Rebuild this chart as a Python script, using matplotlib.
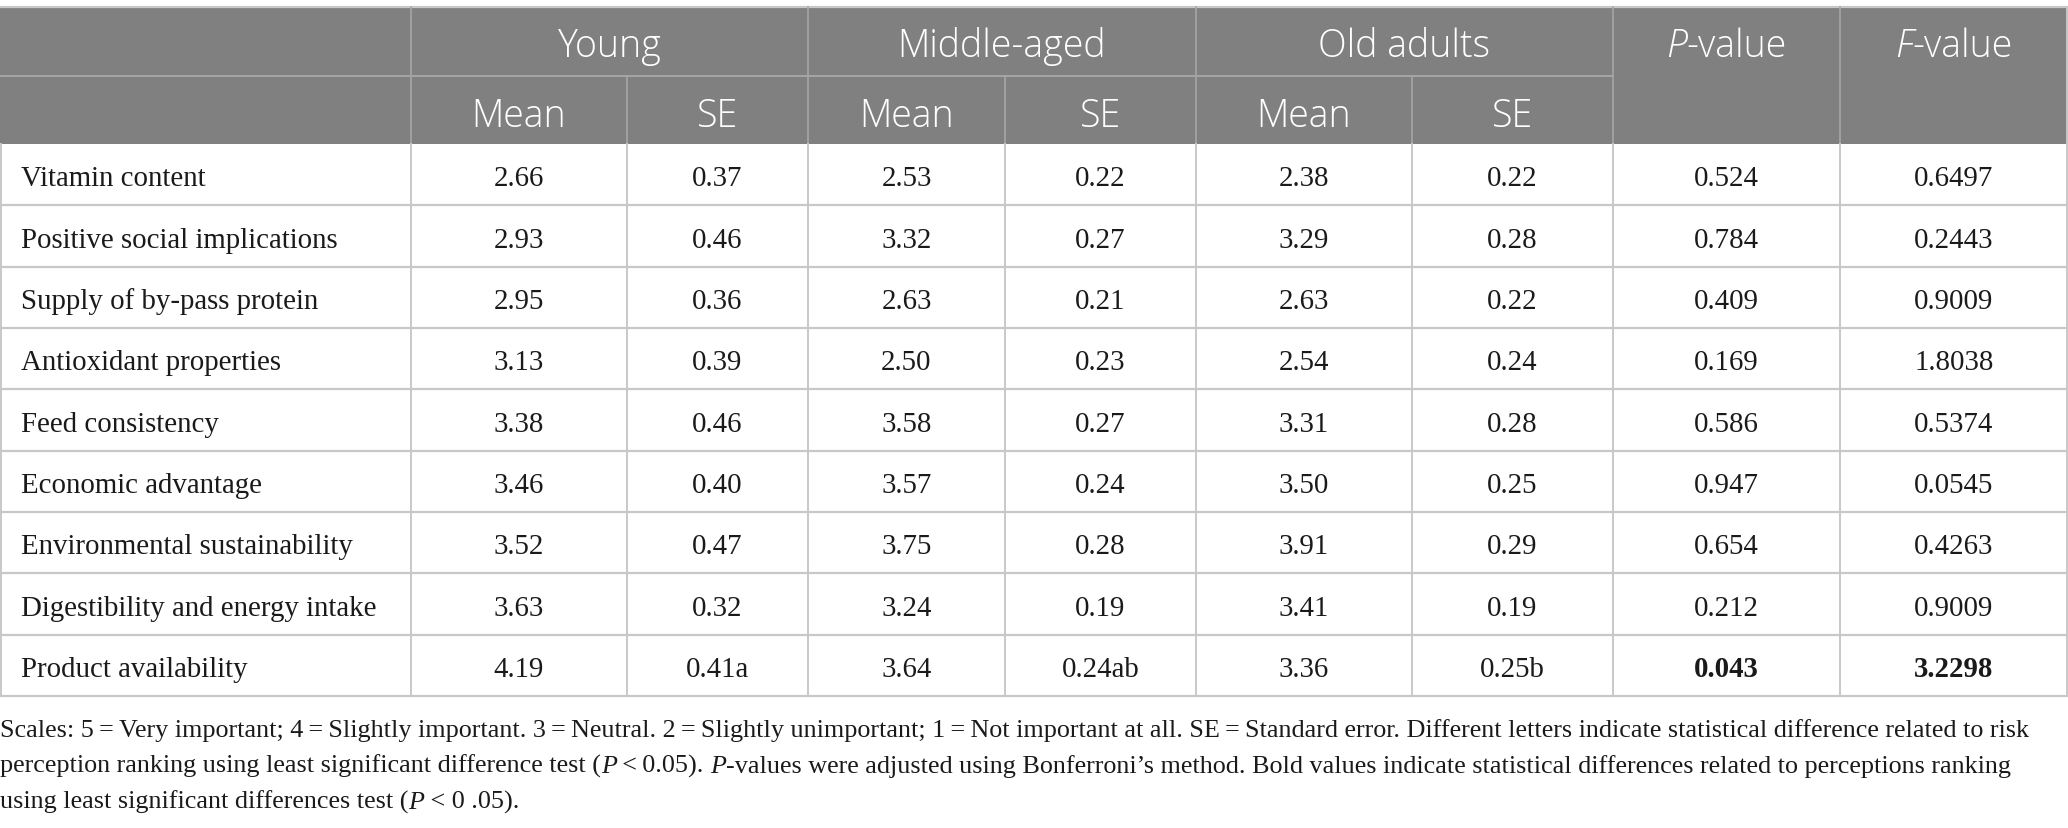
import matplotlib
matplotlib.use("Agg")
import matplotlib.pyplot as plt
from matplotlib.patches import Rectangle

# table contents
factors = ["Vitamin content", "Positive social implications", "Supply of by-pass protein",
           "Antioxidant properties", "Feed consistency", "Economic advantage",
           "Environmental sustainability", "Digestibility and energy intake", "Product availability"]
young_mean = ["2.66", "2.93", "2.95", "3.13", "3.38", "3.46", "3.52", "3.63", "4.19"]
young_se = ["0.37", "0.46", "0.36", "0.39", "0.46", "0.40", "0.47", "0.32", "0.41a"]
mid_mean = ["2.53", "3.32", "2.63", "2.50", "3.58", "3.57", "3.75", "3.24", "3.64"]
mid_se = ["0.22", "0.27", "0.21", "0.23", "0.27", "0.24", "0.28", "0.19", "0.24ab"]
old_mean = ["2.38", "3.29", "2.63", "2.54", "3.31", "3.50", "3.91", "3.41", "3.36"]
old_se = ["0.22", "0.28", "0.22", "0.24", "0.28", "0.25", "0.29", "0.19", "0.25b"]
p_values = ["0.524", "0.784", "0.409", "0.169", "0.586", "0.947", "0.654", "0.212", "0.043"]
f_values = ["0.6497", "0.2443", "0.9009", "1.8038", "0.5374", "0.0545", "0.4263", "0.9009", "3.2298"]
bold_rows = [8]  # significant row

groups = ["Young", "Middle-aged", "Old adults"]
sub_headers = ["Mean", "SE"]

W, H = 2068, 829
fig = plt.figure(figsize=(W / 100, H / 100), dpi=100)
ax = fig.add_axes([0, 0, 1, 1])
ax.set_xlim(0, W)
ax.set_ylim(H, 0)
ax.axis("off")
renderer = fig.canvas.get_renderer()

col_x = [0, 411, 627, 808, 1005, 1196, 1412, 1613, 1840, W]
y_top, y_mid, y_head = 8, 77, 145
y_bot = 697
row_h = (y_bot - y_head) / len(factors)

head_bg = "#808080"
head_line = "#a6a6a6"
grid_c = "#c8c8c8"

head_font = dict(family="Open Sans", fontsize=27, color="white", fontweight="light")
body_font = dict(family="Liberation Serif", fontsize=20.8, color="#1a1a1a")

# header background
ax.add_patch(Rectangle((0, y_top), W, y_head - y_top, facecolor=head_bg, edgecolor="none"))


def text_w(s, **props):
    t = ax.text(0, 0, s + "|", **props)
    w1 = t.get_window_extent(renderer).width
    t.remove()
    t = ax.text(0, 0, "|", **props)
    w2 = t.get_window_extent(renderer).width
    t.remove()
    return w1 - w2


def runs(x, y, parts, ha="left", va="baseline"):
    widths = [text_w(s, **p) for s, p in parts]
    x0 = x - sum(widths) / 2 if ha == "center" else x
    for (s, p), w in zip(parts, widths):
        ax.text(x0, y, s, ha="left", va=va, **p)
        x0 += w


# header lines
ax.plot([0, W], [y_top, y_top], color=grid_c, lw=1.6)
ax.plot([0, col_x[7]], [y_mid, y_mid], color=head_line, lw=1.4)
for i in range(1, 9):
    y0 = y_top if i in (1, 3, 5, 7, 8) else y_mid
    ax.plot([col_x[i], col_x[i]], [y0, y_head], color=head_line, lw=1.2)

# header texts (baselines)
base1, base2 = 57, 127
for g, name in enumerate(groups):
    xc = (col_x[1 + 2 * g] + col_x[3 + 2 * g]) / 2
    ax.text(xc, base1, name, ha="center", va="baseline", **head_font)
    for k, sub in enumerate(sub_headers):
        xs = (col_x[1 + 2 * g + k] + col_x[2 + 2 * g + k]) / 2
        ax.text(xs, base2, sub, ha="center", va="baseline", **head_font)

head_it = dict(head_font, style="italic")
for i, letter in zip((7, 8), ("P", "F")):
    xc = (col_x[i] + col_x[i + 1]) / 2
    runs(xc, base1, [(letter, head_it), ("-value", head_font)], ha="center")

# body
columns = [young_mean, young_se, mid_mean, mid_se, old_mean, old_se, p_values, f_values]
for r, name in enumerate(factors):
    yb = y_head + (r + 0.5) * row_h + 10.5
    ax.text(21, yb, name, ha="left", va="baseline", **body_font)
    for c, vals in enumerate(columns):
        xc = (col_x[c + 1] + col_x[c + 2]) / 2
        wt = "bold" if (r in bold_rows and c >= 6) else "normal"
        ax.text(xc, yb, vals[r], ha="center", va="baseline", fontweight=wt, **body_font)
    ax.plot([0, W], [y_head + (r + 1) * row_h] * 2, color=grid_c, lw=1.6)

for i in range(1, 9):
    ax.plot([col_x[i], col_x[i]], [y_head, y_bot], color=grid_c, lw=1.4)
ax.plot([1, 1], [y_head, y_bot], color=grid_c, lw=1.4)
ax.plot([W - 1, W - 1], [y_top, y_bot], color=grid_c, lw=1.4)

# footnote
note_font = dict(family="Liberation Serif", fontsize=18.8, color="#1a1a1a")
note_it = dict(note_font, style="italic")
runs(0, 737, [("Scales: 5\u2009=\u2009Very important; 4\u2009=\u2009Slightly important. 3\u2009=\u2009Neutral. "
               "2\u2009=\u2009Slightly unimportant; 1\u2009=\u2009Not important at all. SE\u2009=\u2009Standard error. "
               "Different letters indicate statistical difference related to risk", note_font)])
runs(0, 773, [("perception ranking using least significant difference test (", note_font),
              ("P", note_it), ("\u2009<\u20090.05). ", note_font), ("P", note_it),
              ("-values were adjusted using Bonferroni\u2019s method. Bold values indicate statistical "
               "differences related to perceptions ranking", note_font)])
runs(0, 809, [("using least significant differences test (", note_font), ("P", note_it),
              (" < 0 .05).", note_font)])

fig.savefig("out.png", dpi=100)
